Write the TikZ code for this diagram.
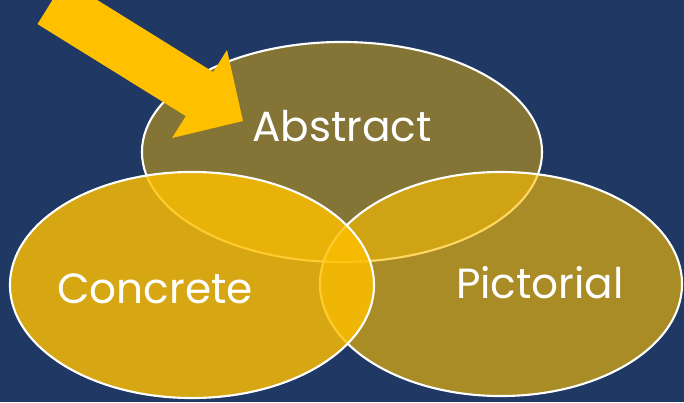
\documentclass[tikz,border=0pt]{standalone}
\usepackage{fontspec}
\setmainfont{Poppins}
\usetikzlibrary{shapes.geometric}
\definecolor{navy}{RGB}{31,56,100}
\definecolor{gold}{RGB}{255,192,0}

\tikzset{
    venn/.style={ellipse,draw=white,line width=1.5pt,fill=gold,inner sep=0pt},
    lbl/.style={text=white,font=\fontsize{30}{36}\selectfont}
}

\begin{document}
\begin{tikzpicture}[x=0.025cm,y=-0.025cm]
    \fill[navy] (0,0) rectangle (684,402);
    \useasboundingbox (0,0) rectangle (684,402);
    \clip (0,0) rectangle (684,402);

    % the three circles, back to front
    \node[venn,fill opacity=0.45,minimum width=10cm,minimum height=5.5cm] (abs) at (342,152) {};
    \node[venn,fill opacity=0.62,minimum width=9.05cm,minimum height=5.6cm] (pic) at (501,284) {};
    \node[venn,fill opacity=0.82,minimum width=9.1cm,minimum height=5.65cm] (con) at (192,285) {};

    \node[lbl] (abslbl) at (342,126) {Abstract};
    \node[lbl] (conlbl) at (155,289) {Concrete};
    \node[lbl] (piclbl) at (540,283) {Pictorial};

    % big arrow onto abstract
    \coordinate (tip) at (243,121);
    \fill[gold] (37.5,24.1) -- (185.8,116.1) -- (172,138) -- (tip)
        -- (227,50) -- (213.2,72) -- (64.9,-20.1) -- cycle;
\end{tikzpicture}
\end{document}
